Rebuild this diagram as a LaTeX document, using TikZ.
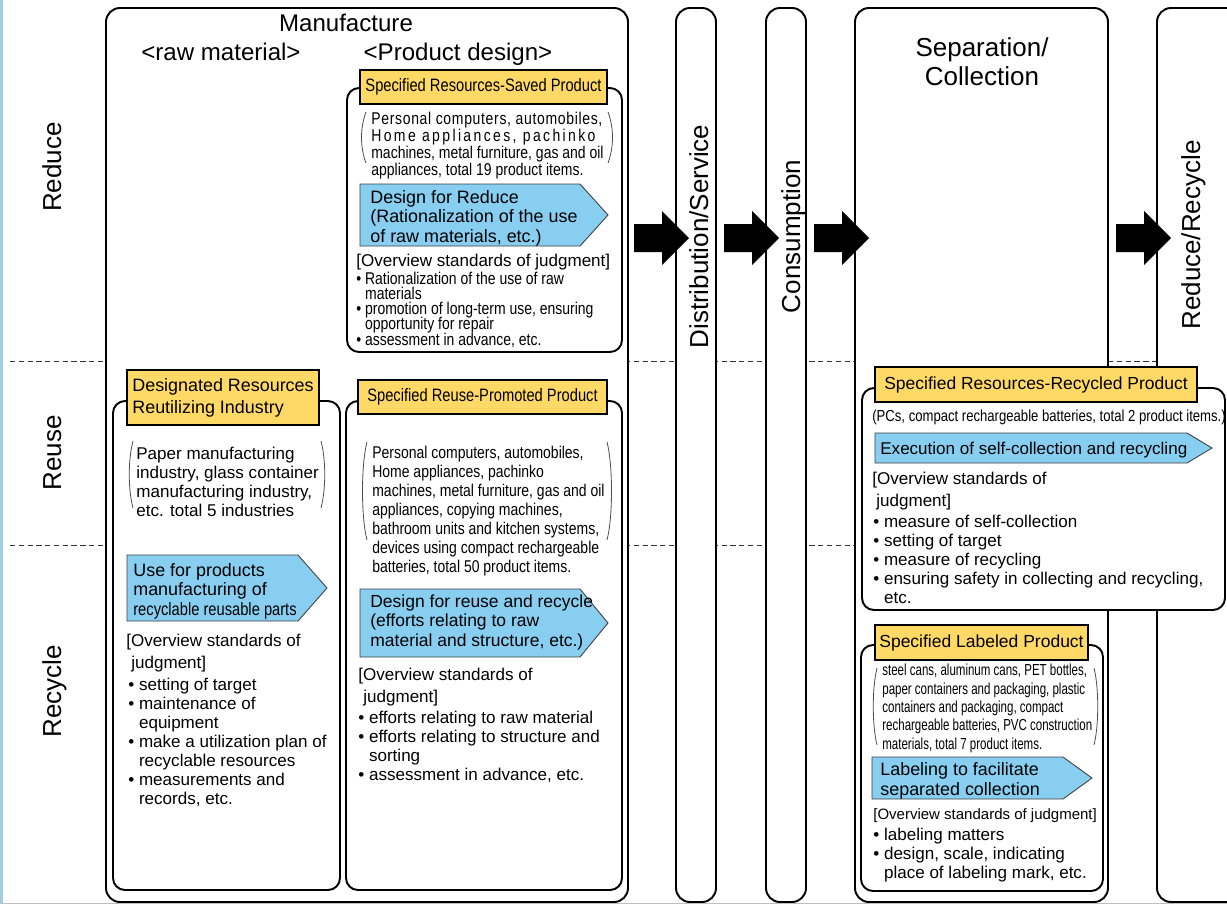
\documentclass[tikz,border=0pt]{standalone}
\usepackage{fontspec}
\setmainfont{Liberation Sans}
\newfontfamily\narrowfont[FakeStretch=0.82]{Liberation Sans}
\newfontfamily\narrowerfont[FakeStretch=0.72]{Liberation Sans}
\usetikzlibrary{fit,positioning}

\definecolor{tagyellow}{RGB}{255,217,102}
\definecolor{chevronblue}{RGB}{135,206,240}
\definecolor{edgeblue}{RGB}{160,205,228}

% font sizes (1px = 0.569pt)
\newcommand{\fsTitle}{\fontsize{14.8pt}{17pt}\selectfont}
\newcommand{\fsHead}{\fontsize{13.7pt}{16pt}\selectfont}
\newcommand{\fsTag}{\fontsize{10.2pt}{12.5pt}\selectfont\lineskiplimit=-\maxdimen}
\newcommand{\fsTagB}{\fontsize{9.96pt}{12pt}\selectfont}
\newcommand{\fsChev}{\fontsize{10.2pt}{11.1pt}\selectfont\lineskiplimit=-\maxdimen}
\newcommand{\fsChevB}{\fontsize{9.96pt}{10.9pt}\selectfont\lineskiplimit=-\maxdimen}
\newcommand{\fsBody}{\fontsize{9.7pt}{10.8pt}\selectfont\lineskiplimit=-\maxdimen}
\newcommand{\fsList}{\fontsize{9.7pt}{9.5pt}\selectfont\lineskiplimit=-\maxdimen}
\newcommand{\fsTight}{\fontsize{9.7pt}{8.6pt}\selectfont\lineskiplimit=-\maxdimen}
\newcommand{\fsOver}{\fontsize{9.7pt}{12.3pt}\selectfont\lineskiplimit=-\maxdimen}
\newcommand{\fsSmall}{\fontsize{9.1pt}{10.4pt}\selectfont\lineskiplimit=-\maxdimen}
\newcommand{\fsNote}{\fontsize{8.54pt}{10pt}\selectfont}

\newcommand{\itembul}{\textbullet\ }
\newcommand{\itemgap}{\phantom{\textbullet\ }}
\newcommand{\chevronbox}[5]{\draw[chevron] (#1,#2) -- (#3,#2) -- (#4,{(#2+#5)/2}) -- (#3,#5) -- (#1,#5) -- cycle;}

\begin{document}
\begin{tikzpicture}[
    x=0.02cm, y=-0.02cm,
    column/.style={draw, line width=1.1pt, rounded corners=0.28cm, fill=white, inner sep=0pt},
    panel/.style={draw, line width=1.1pt, rounded corners=0.24cm, fill=white, inner sep=0pt},
    tag/.style={draw, line width=0.7pt, fill=tagyellow, inner sep=0pt},
    tagtext/.style={inner sep=0pt, align=left},
    chevron/.style={draw=black!75, line width=0.5pt, fill=chevronblue},
    paren/.style={draw=black!70, line width=0.45pt},
    divider/.style={draw=black!80, line width=0.5pt, dash pattern=on 3pt off 2pt},
    title/.style={inner sep=0pt, font=\fsTitle},
    head/.style={inner sep=0pt, font=\fsHead, anchor=base},
    txt/.style={inner sep=0pt, anchor=base west, align=left, font=\fsBody}
]
\useasboundingbox (0,0) rectangle (1227,904);
\clip (0,0) rectangle (1227,904);
\fill[white] (0,0) rectangle (1227,904);
\fill[edgeblue] (0,0) rectangle (3,904);
\draw[black!25, line width=0.6pt] (0,903.5) -- (1227,903.5);

% Row dividers
\draw[divider] (10,361) -- (1227,361);
\draw[divider] (10,545) -- (1227,545);

% Row labels
\node[title, rotate=90, anchor=base] (reducerow) at (61,167) {Reduce};
\node[title, rotate=90, anchor=base] (reuserow) at (61,453) {Reuse};
\node[title, rotate=90, anchor=base] (recyclerow) at (61,691) {Recycle};

% Columns
\node[column, fit={(106,8) (628,902)}] (manufacture) {};
\node[column, fit={(676,8) (716,902)}] (distribution) {};
\node[column, fit={(766,8) (806,902)}] (consumption) {};
\node[column, fit={(855,8) (1108,902)}] (separation) {};
\node[column, fit={(1157,8) (1260,902)}] (rerecycle) {};

\node[head] (manutitle) at (346,31) {Manufacture};
\node[head] (rawtitle) at (221,60) {<raw material>};
\node[head] (designtitle) at (458,60) {<Product design>};
\node[title, rotate=90, anchor=base] (distlabel) at (708,236.5) {Distribution/Service};
\node[title, rotate=90, anchor=base] (conslabel) at (800,236.5) {Consumption};
\node[title, anchor=base] (septitle) at (982,56) {Separation/};
\node[title, anchor=base] (coltitle) at (982,85) {Collection};
\node[title, rotate=90, anchor=base] (rrlabel) at (1200,235) {Reduce/Recycle};

% Specified Resources-Saved Product
\node[panel, fit={(347,88) (622,352)}] (saved) {};
\node[tag, fit={(360,70) (607,104)}] (savedtag) {};
\node[tagtext, font=\narrowfont\fsTag] at (savedtag.center) {Specified Resources-Saved Product};
\node[txt, font=\narrowfont\fsList] (savedlist) at (371,175) {{\addfontfeature{LetterSpace=4}Personal computers, automobiles,}\\{\addfontfeature{LetterSpace=14}Home appliances, pachinko}\\machines, metal furniture, gas and oil\\appliances, total 19 product items.};
\draw[paren] (366,112) .. controls (360,128) and (360,147) .. (366,163);
\draw[paren] (608,112) .. controls (614,128) and (614,147) .. (608,163);
\chevronbox{360}{184}{580}{608}{246}
\node[txt, font=\fsChev] (savedchev) at (370,242) {Design for Reduce\\(Rationalization of the use\\of raw materials, etc.)};
\node[txt] (savedover) at (356,266) {[Overview standards of judgment]};
\node[txt, font=\narrowfont\fsTight] (savedjudge) at (356,345) {\itembul Rationalization of the use of raw\\\itemgap materials\\\itembul promotion of long-term use, ensuring\\\itemgap opportunity for repair\\\itembul assessment in advance, etc.};

% Designated Resources Reutilizing Industry
\node[panel, fit={(113,401) (340,890)}] (industry) {};
\node[tag, fit={(127,370) (319,425)}] (industrytag) {};
\node[tagtext, font=\fsTag] at (industrytag.center) {Designated Resources\\Reutilizing Industry};
\node[txt] (industrylist) at (136,516) {Paper manufacturing\\industry, glass container\\manufacturing industry,\\etc. total 5 industries};
\draw[paren] (133,441) .. controls (128,460) and (128,489) .. (133,508);
\draw[paren] (321,441) .. controls (326,460) and (326,489) .. (321,508);
\chevronbox{127}{555}{298}{327}{621}
\node[txt, font=\fsChev] (industrychev) at (133,615) {Use for products\\manufacturing of\\{\narrowfont recyclable reusable parts}};
\node[txt, font=\fsOver] (industryover) at (126,668) {[Overview standards of\\\hspace*{0.1cm}judgment]};
\node[txt] (industryjudge) at (128,804) {\itembul setting of target\\\itembul maintenance of\\\itemgap equipment\\\itembul make a utilization plan of\\\itemgap recyclable resources\\\itembul measurements and\\\itemgap records, etc.};

% Specified Reuse-Promoted Product
\node[panel, fit={(346,401) (622,890)}] (reuse) {};
\node[tag, fit={(358,380) (607,414)}] (reusetag) {};
\node[tagtext, font=\narrowfont\fsTag] at (reusetag.center) {Specified Reuse-Promoted Product};
\node[txt, font=\narrowfont\fsBody] (reuselist) at (372,572) {Personal computers, automobiles,\\Home appliances, pachinko\\machines, metal furniture, gas and oil\\appliances, copying machines,\\bathroom units and kitchen systems,\\devices using compact rechargeable\\batteries, total 50 product items.};
\draw[paren] (367,442) .. controls (361,465) and (361,517) .. (367,540);
\draw[paren] (607,442) .. controls (613,465) and (613,517) .. (607,540);
\chevronbox{360}{589}{580}{608}{657}
\node[txt, font=\fsChevB] (reusechev) at (370,646) {Design for reuse and recycle\\(efforts relating to raw\\material and structure, etc.)};
\node[txt, font=\fsOver] (reuseover) at (358,702) {[Overview standards of\\\hspace*{0.1cm}judgment]};
\node[txt] (reusejudge) at (358,780) {\itembul efforts relating to raw material\\\itembul efforts relating to structure and\\\itemgap sorting\\\itembul assessment in advance, etc.};

% Specified Resources-Recycled Product
\node[panel, fit={(862,388) (1225,610)}] (recycled) {};
\node[tag, fit={(875,367) (1197,402)}] (recycledtag) {};
\node[tagtext, font=\fsTagB] at (recycledtag.center) {Specified Resources-Recycled Product};
\node[txt, font=\narrowfont\fsSmall] (recycledlist) at (872,421) {(PCs, compact rechargeable batteries, total 2 product items.)};
\chevronbox{875}{433}{1187}{1212}{463}
\node[txt] (recycledchev) at (880,454) {Execution of self-collection and recycling};
\node[txt, font=\fsOver] (recycledover) at (872,506) {[Overview standards of\\\hspace*{0.08cm}judgment]};
\node[txt] (recycledjudge) at (873,603) {\itembul measure of self-collection\\\itembul setting of target\\\itembul measure of recycling\\\itembul ensuring safety in collecting and recycling,\\\itemgap etc.};

% Specified Labeled Product
\node[panel, fit={(861,645) (1103,891)}] (labeled) {};
\node[tag, fit={(875,625) (1088,660)}] (labeledtag) {};
\node[tagtext, font=\fsTagB] at (labeledtag.center) {Specified Labeled Product};
\node[txt, font=\narrowerfont\fsSmall] (labeledlist) at (882,749) {steel cans, aluminum cans, PET bottles,\\paper containers and packaging, plastic\\containers and packaging, compact\\rechargeable batteries, PVC construction\\materials, total 7 product items.};
\draw[paren] (877,668) .. controls (872,688) and (872,725) .. (877,745);
\draw[paren] (1094,668) .. controls (1099,688) and (1099,725) .. (1094,745);
\chevronbox{872}{757}{1063}{1092}{799}
\node[txt, font=\fsChev] (labeledchev) at (880,795) {Labeling to facilitate\\separated collection};
\node[txt, font=\fsNote] (labeledover) at (873,819) {[Overview standards of judgment]};
\node[txt] (labeledjudge) at (873,878) {\itembul labeling matters\\\itembul design, scale, indicating\\\itemgap place of labeling mark, etc.};

% Flow arrows
\foreach \ax in {634,724,814,1116}
  \fill (\ax,224) -- ++(28,0) -- ++(0,-13) -- ++(27,27) -- ++(-27,27) -- ++(0,-13) -- ++(-28,0) -- cycle;

\end{tikzpicture}
\end{document}
